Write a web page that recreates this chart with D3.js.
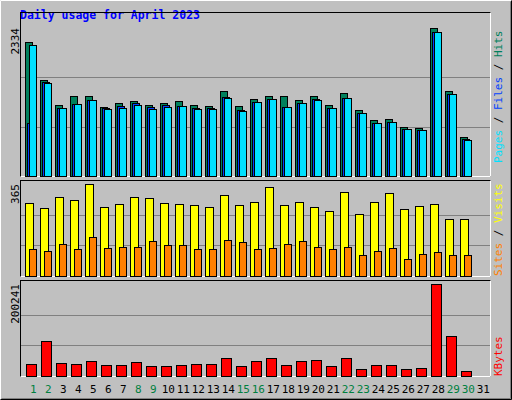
<!DOCTYPE html>
<html><head><meta charset="utf-8">
<script src="https://cdn.jsdelivr.net/npm/d3@7"></script>
<style>body{margin:0;background:#fff}svg{display:block}</style></head>
<body><svg id="c" width="512" height="400"></svg>
<script>
const days = d3.range(1,32);
const weekend = [1,2,8,9,15,16,22,23,29,30];
const hits  = [2111,1507,1125,1268,1268,1093,1157,1188,1125,1157,1188,1125,1109,1337,1109,1220,1268,1268,1204,1268,1125,1316,1045,886,902,775,759,2334,1347,615];
const files = [838,1475,1077,1140,1204,1077,1109,1157,1093,1125,1109,1077,1077,1252,1045,1172,1220,1093,1157,1220,1077,1236,997,838,854,743,727,2270,1300,584];
const pages = [2069,1459,1077,1140,1204,1061,1077,1125,1061,1093,1109,1061,1061,1236,1029,1172,1220,1093,1157,1204,1077,1236,997,838,854,743,727,2270,1300,568];
const visits= [290,270,313,302,365,274,286,313,309,290,286,282,274,321,282,294,353,282,294,274,258,333,246,294,329,266,278,286,226,226];
const sites = [107,99,127,107,155,111,115,115,139,123,123,107,107,143,135,107,111,127,139,115,107,115,83,99,111,67,87,95,83,83];
const kbytes= [27040,75270,29230,27040,33620,24850,24850,31420,22650,22650,24850,27040,27040,40190,22650,33620,40190,24850,33620,35810,22650,40190,16080,24850,24850,16080,18270,200241,86230,11690];
const maxHits=2334, maxVisits=365, maxKB=200241;

const svg=d3.select("#c");
// background + 3D border
svg.append("rect").attr("width",512).attr("height",400).attr("fill","#c0c0c0");
svg.append("path").attr("d","M0.5,399.5V0.5H511.5").attr("stroke","#fff").attr("fill","none");
svg.append("path").attr("d","M1.5,398.5H510.5V1.5").attr("stroke","#808080").attr("fill","none");
svg.append("path").attr("d","M0.5,399.5H511.5V0.5").attr("stroke","#000").attr("fill","none");
svg.append("text").attr("x",20).attr("y",19).text("Daily usage for April 2023")
  .attr("font-family","DejaVu Sans Mono").attr("font-weight","bold").attr("font-size",11.5).attr("fill","#0000ff");

const x=d3.scaleLinear().domain([1,31]).range([25.3,25.3+30*15]);
const mono="DejaVu Sans Mono";

function panel(y0,y1,top,max){
  svg.append("rect").attr("x",20.5).attr("y",y0+0.5).attr("width",470).attr("height",y1-y0).attr("fill","none").attr("stroke","#000");
  svg.append("path").attr("d",`M20.5,${y1+0.5}H490.5V${y0+0.5}`).attr("stroke","#fff").attr("fill","none");
  const y=d3.scaleLinear().domain([0,max]).range([y1,top]);
  [1,2].forEach(i=>{const gy=Math.round(y1-(y1-top)*i/3)+0.5;
    svg.append("line").attr("x1",21).attr("x2",490).attr("y1",gy).attr("y2",gy).attr("stroke","#808080");});
  svg.append("text").attr("transform",`translate(19,${top}) rotate(-90)`).attr("text-anchor","end")
    .attr("font-family",mono).attr("font-size",11).text(max);
  return y;
}
function bars(data,y,off,w,color){
  svg.append("g").selectAll("rect").data(data).join("rect")
    .attr("x",(d,i)=>Math.round(x(i+1))+off+0.5).attr("width",w)
    .attr("y",d=>Math.round(y(d))+0.5).attr("height",d=>Math.max(0,y(0)-Math.round(y(d))))
    .attr("fill",color).attr("stroke","#000");
}
function sideLabel(parts,yBottom){
  const t=svg.append("text").attr("transform",`translate(502,${yBottom}) rotate(-90)`)
    .attr("font-family",mono).attr("font-size",11);
  parts.forEach(p=>t.append("tspan").attr("fill",p[1]).text(p[0]));
}
const y1=panel(12,176,28,maxHits);
bars(hits,y1,0,7,"#00805c");
bars(files,y1,2,7,"#0040ff");
bars(pages,y1,4,7,"#00e0ff");
sideLabel([["Pages","#00e0ff"],[" / ","#000"],["Files","#0040ff"],[" / ","#000"],["Hits","#00805c"]],163);

const y2=panel(180,276,184,maxVisits);
bars(visits,y2,0,8,"#ffff00");
bars(sites,y2,4,7,"#ff8000");
sideLabel([["Sites","#ff8000"],[" / ","#000"],["Visits","#ffff00"]],276);

const y3=panel(280,376,284,maxKB);
bars(kbytes,y3,1,10,"#ff0000");
sideLabel([["KBytes","#ff0000"]],376);

svg.append("g").selectAll("text").data(days).join("text")
  .attr("x",d=>x(d)+8).attr("y",393).attr("text-anchor","middle")
  .attr("font-family",mono).attr("font-size",11)
  .attr("fill",d=>weekend.includes(d)?"#008040":"#000").text(d=>d);
</script></body></html>
